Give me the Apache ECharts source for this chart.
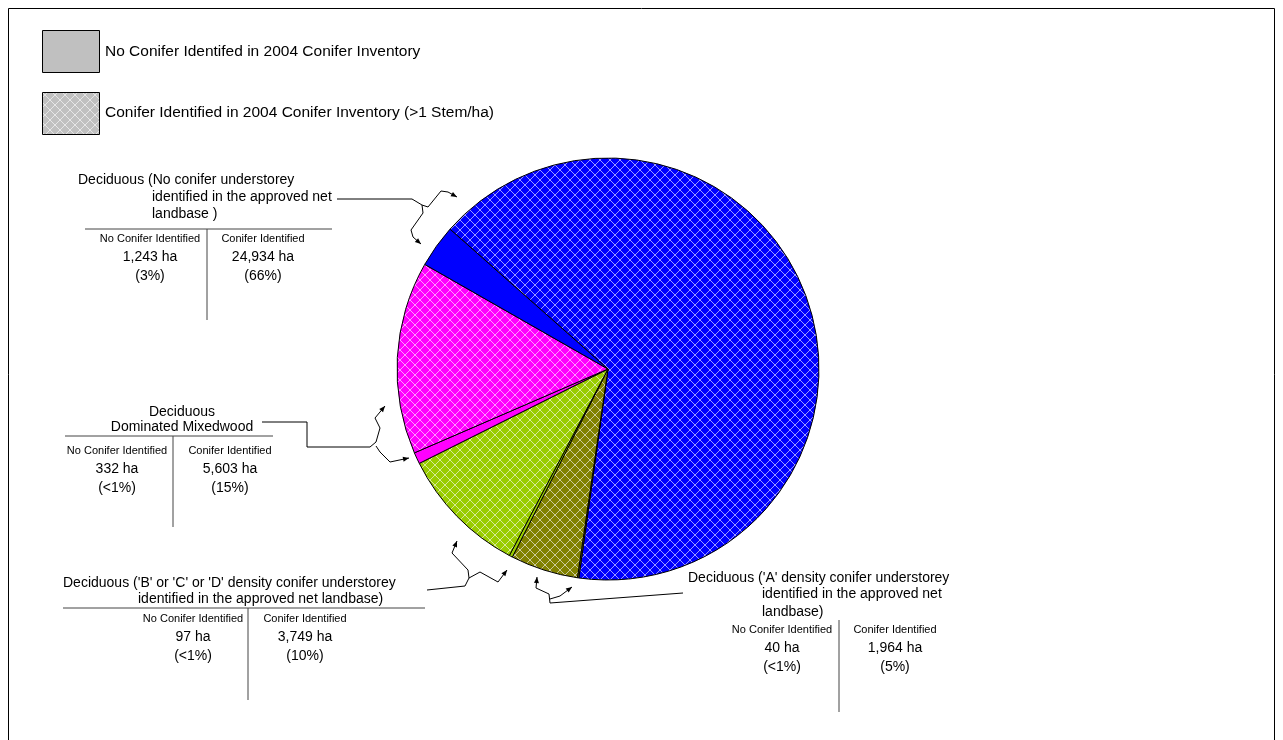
<!DOCTYPE html>
<html><head><meta charset="utf-8">
<script src="https://cdn.jsdelivr.net/npm/echarts@6/dist/echarts.min.js"></script>
<style>html,body{margin:0;padding:0;background:#fff}#chart{width:1283px;height:740px}</style>
</head><body><div id="chart"></div>
<script>
// ---------------- DATA ----------------
const groupNames = [
  "Deciduous (No conifer understorey identified in the approved net landbase )",
  "Deciduous Dominated Mixedwood",
  "Deciduous ('B' or 'C' or 'D' density conifer understorey identified in the approved net landbase)",
  "Deciduous ('A' density conifer understorey identified in the approved net landbase)"
];
const noConiferHa = [1243, 332, 97, 40];
const coniferHa = [24934, 5603, 3749, 1964];
const groupColors = ['#0000FF', '#FF00FF', '#99CC00', '#808000'];
const legendLabels = ['No Conifer Identifed in 2004 Conifer Inventory', 'Conifer Identified in 2004 Conifer Inventory (>1 Stem/ha)'];
const columnHeaders = ['No Conifer Identified', 'Conifer Identified'];
const titleLines = [
  ['Deciduous (No conifer understorey', 'identified in the approved net', 'landbase )'],
  ['Deciduous', 'Dominated Mixedwood'],
  ["Deciduous ('B' or 'C' or 'D' density conifer understorey", 'identified in the approved net landbase)'],
  ["Deciduous ('A' density conifer understorey", 'identified in the approved net', 'landbase)']
];
// clockwise slice order: [group index, conifer identified?]
const sliceOrder = [[0, true], [3, false], [3, true], [2, false], [2, true], [1, false], [1, true], [0, false]];

// ---------------- HELPERS ----------------
const FONT = '"Liberation Sans", Arial, sans-serif';
const total = noConiferHa.reduce((a, b) => a + b, 0) + coniferHa.reduce((a, b) => a + b, 0);
const fmtHa = v => v.toLocaleString('en-US') + ' ha';
const fmtPct = v => { const p = v / total * 100; return p < 1 ? '(<1%)' : '(' + Math.round(p) + '%)'; };

function hatch(base) {
  const N = 10;
  const c = document.createElement('canvas'); c.width = N; c.height = N;
  const g = c.getContext('2d'); g.fillStyle = base; g.fillRect(0, 0, N, N);
  g.fillStyle = 'rgba(255,255,255,0.6)';
  for (let i = 0; i < N; i++) { g.fillRect(i, i, 1, 1); g.fillRect(N - 1 - i, i, 1, 1); }
  return { image: c, repeat: 'repeat' };
}

const pieData = sliceOrder.map(([gi, con]) => ({
  name: groupNames[gi] + (con ? ' - Conifer Identified' : ' - No Conifer Identified'),
  value: con ? coniferHa[gi] : noConiferHa[gi],
  itemStyle: { color: con ? hatch(groupColors[gi]) : groupColors[gi] }
}));

const G = [];
function text(x, y, s, size, align) {
  G.push({ type: 'text', x, y, silent: true, style: {
    text: s, fontSize: size, fontFamily: FONT, fill: '#000',
    align: align || 'left', verticalAlign: 'middle', textAlign: align || 'left', textVerticalAlign: 'middle' } });
}
function line(x1, y1, x2, y2, color, w) {
  G.push({ type: 'line', silent: true, shape: { x1, y1, x2, y2 }, style: { stroke: color || '#444', lineWidth: w || 1 } });
}
function poly(points) {
  G.push({ type: 'polyline', silent: true, shape: { points }, style: { stroke: '#000', fill: null, lineWidth: 1 } });
  const [x2, y2] = points[points.length - 1], [x1, y1] = points[points.length - 2];
  const a = Math.atan2(y2 - y1, x2 - x1), L = 6, W = 2.5;
  const bx = x2 - L * Math.cos(a), by = y2 - L * Math.sin(a);
  G.push({ type: 'polygon', silent: true, shape: { points: [[x2, y2],
    [bx + W * Math.sin(a), by - W * Math.cos(a)], [bx - W * Math.sin(a), by + W * Math.cos(a)]] },
    style: { fill: '#000' } });
}
function table(gi, lx, rx, y0) {
  text(lx, y0, columnHeaders[0], 11, 'center');
  text(rx, y0, columnHeaders[1], 11, 'center');
  text(lx, y0 + 18, fmtHa(noConiferHa[gi]), 14, 'center');
  text(rx, y0 + 18, fmtHa(coniferHa[gi]), 14, 'center');
  text(lx, y0 + 37, fmtPct(noConiferHa[gi]), 14, 'center');
  text(rx, y0 + 37, fmtPct(coniferHa[gi]), 14, 'center');
}

// frame
G.push({ type: 'rect', silent: true, shape: { x: 8.5, y: 8.5, width: 1266, height: 740 }, style: { fill: null, stroke: '#000', lineWidth: 1 } });

// legend
G.push({ type: 'rect', silent: true, shape: { x: 42.5, y: 30.5, width: 57, height: 42 }, style: { fill: '#C0C0C0', stroke: '#000', lineWidth: 1 } });
text(105, 52, legendLabels[0], 15.5);
G.push({ type: 'rect', silent: true, shape: { x: 42.5, y: 92.5, width: 57, height: 42 }, style: { fill: hatch('#C0C0C0'), stroke: '#000', lineWidth: 1 } });
text(105, 113, legendLabels[1], 15.5);

// annotation 1
text(78, 180, titleLines[0][0], 14);
text(152, 197, titleLines[0][1], 14);
text(152, 214, titleLines[0][2], 14);
line(85, 229, 332, 229); line(207, 229, 207, 320);
table(0, 150, 263, 239);
line(337, 199, 412, 199, '#000');
poly([[412, 199], [422, 205], [428, 207], [441, 191], [448, 192], [457, 197]]);
poly([[422, 205], [423, 213], [411, 230], [413, 237], [421, 244]]);

// annotation 2
text(182, 412, titleLines[1][0], 14, 'center');
text(182, 427, titleLines[1][1], 14, 'center');
line(65, 436, 273, 436); line(173, 436, 173, 527);
table(1, 117, 230, 451);
G.push({ type: 'polyline', silent: true, shape: { points: [[262, 422], [307, 422], [307, 447], [370, 447]] }, style: { stroke: '#000', fill: null, lineWidth: 1 } });
poly([[370, 447], [376, 442], [380, 428], [375, 418], [385, 406]]);
poly([[376, 446], [380, 452], [390, 462], [409, 458]]);

// annotation 3
text(63, 583, titleLines[2][0], 14);
text(138, 599, titleLines[2][1], 14);
line(63, 608, 425, 608); line(248, 608, 248, 700);
table(2, 193, 305, 619);
line(427, 590, 465, 586, '#000');
poly([[465, 586], [469, 578], [468, 570], [452, 553], [457, 541]]);
poly([[469, 578], [480, 572], [498, 582], [507, 570]]);

// annotation 4
text(688, 578, titleLines[3][0], 14);
text(762, 594, titleLines[3][1], 14);
text(762, 612, titleLines[3][2], 14);
line(839, 620, 839, 712);
table(3, 782, 895, 630);
line(683, 593, 550, 603, '#000');
poly([[550, 603], [549, 594], [536, 588], [537, 577]]);
poly([[550, 599], [560, 596], [572, 587]]);

// ---------------- CHART ----------------
const chart = echarts.init(document.getElementById('chart'), null, { renderer: 'canvas' });
chart.setOption({
  animation: false,
  backgroundColor: '#fff',
  series: [{
    type: 'pie',
    center: [608, 369],
    radius: 211,
    startAngle: 138.5,
    clockwise: true,
    label: { show: false },
    labelLine: { show: false },
    emphasis: { disabled: true },
    itemStyle: { borderColor: '#000', borderWidth: 1 },
    data: pieData
  }],
  graphic: { elements: G }
});
</script></body></html>
